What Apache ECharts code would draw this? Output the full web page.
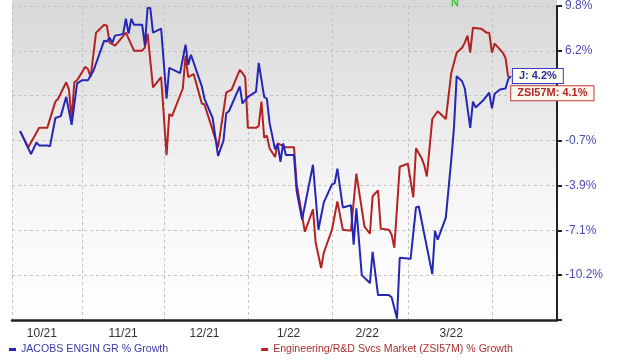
<!DOCTYPE html>
<html><head><meta charset="utf-8">
<script src="https://cdn.jsdelivr.net/npm/echarts@6/dist/echarts.min.js"></script>
<style>html,body{margin:0;padding:0;background:#fff}#c{width:620px;height:360px}</style>
</head><body><div id="c"></div>
<script>
const jName = 'JACOBS ENGIN GR % Growth';
const zName = 'Engineering/R&D Svcs Market (ZSI57M) % Growth';
const jShort = 'J';
const zShort = 'ZSI57M';
const xTickLabels = ['10/21','11/21','12/21','1/22','2/22','3/22'];
const xTickDates = ['2021-10-17','2021-11-16','2021-12-16','2022-01-16','2022-02-14','2022-03-17'];
const yTickLabels = ['9.8%','6.2%','2.6%','-0.7%','-3.9%','-7.1%','-10.2%',''];

const jDates = ['2021-10-09','2021-10-13','2021-10-15','2021-10-16','2021-10-19','2021-10-20','2021-10-22','2021-10-24','2021-10-26','2021-10-28','2021-10-30',
'2021-11-01','2021-11-03','2021-11-05','2021-11-09','2021-11-10','2021-11-11','2021-11-12','2021-11-13','2021-11-15','2021-11-16','2021-11-17','2021-11-18','2021-11-19','2021-11-20','2021-11-23','2021-11-24','2021-11-25','2021-11-26','2021-11-27','2021-11-30',
'2021-12-02','2021-12-03','2021-12-07','2021-12-09','2021-12-10','2021-12-11','2021-12-15','2021-12-16','2021-12-19','2021-12-21','2021-12-23','2021-12-24','2021-12-25','2021-12-29','2021-12-30',
'2022-01-01','2022-01-04','2022-01-05','2022-01-07','2022-01-08','2022-01-09','2022-01-11','2022-01-12','2022-01-13','2022-01-14','2022-01-15','2022-01-18','2022-01-19','2022-01-21','2022-01-25','2022-01-27','2022-01-29',
'2022-02-01','2022-02-02','2022-02-03','2022-02-05','2022-02-08','2022-02-09','2022-02-10','2022-02-12','2022-02-15','2022-02-16','2022-02-18','2022-02-22','2022-02-23','2022-02-25','2022-02-26',
'2022-03-02','2022-03-04','2022-03-05','2022-03-10','2022-03-11','2022-03-12','2022-03-15','2022-03-17','2022-03-18','2022-03-19','2022-03-21','2022-03-22','2022-03-24','2022-03-25','2022-03-26','2022-03-29','2022-03-31',
'2022-04-01','2022-04-02','2022-04-04','2022-04-06','2022-04-07','2022-04-08'];
const jValues = [0,-1.7,-0.84,-1.06,-1.06,-1.13,0.99,1.13,2.6,0.47,3.64,
3.88,3.88,4.6,7.0,6.92,7.24,6.84,7.4,7.48,7.56,8.76,7.56,8.76,8.28,8.28,6.6,9.64,9.64,7.64,7.96,
2.45,4.84,4.44,6.68,5.08,5.88,3.4,2.45,0.99,-1.84,-0.7,1.35,1.5,3.4,2.09,
2.6,3.0,5.24,2.6,2.45,0.62,-1.34,-0.98,-2.26,-0.91,-1.77,-1.77,-4.4,-6.39,-2.48,-7.1,-5.18,
-3.9,-3.83,-2.76,-5.54,-5.39,-8.13,-5.61,-10.2,-10.73,-8.62,-11.53,-11.53,-11.67,-13.07,-9.03,
-9.1,-5.54,-5.46,-10.13,-7.17,-7.79,-6.25,-2.12,0.25,4.2,3.8,3.24,0.25,2.23,1.79,2.38,2.92,
1.72,2.84,3.16,3.24,3.96,4.2];

const zDates = ['2021-10-09','2021-10-12','2021-10-15','2021-10-16','2021-10-19','2021-10-22','2021-10-23','2021-10-26','2021-10-27','2021-10-28','2021-10-29','2021-10-30',
'2021-11-02','2021-11-03','2021-11-04','2021-11-06','2021-11-09','2021-11-10','2021-11-11','2021-11-13','2021-11-14','2021-11-17','2021-11-20','2021-11-23','2021-11-24','2021-11-25','2021-11-27','2021-11-30',
'2021-12-02','2021-12-03','2021-12-04','2021-12-08','2021-12-09','2021-12-10','2021-12-12','2021-12-15','2021-12-16','2021-12-21','2021-12-23','2021-12-24','2021-12-26','2021-12-29','2021-12-30','2021-12-31',
'2022-01-01','2022-01-04','2022-01-05','2022-01-06','2022-01-07','2022-01-08','2022-01-09','2022-01-11','2022-01-12','2022-01-15','2022-01-18','2022-01-19','2022-01-22','2022-01-25','2022-01-26','2022-01-28','2022-01-29',
'2022-02-01','2022-02-03','2022-02-05','2022-02-08','2022-02-10','2022-02-13','2022-02-15','2022-02-16','2022-02-18','2022-02-19','2022-02-22','2022-02-23','2022-02-24','2022-02-26',
'2022-03-01','2022-03-03','2022-03-04','2022-03-06','2022-03-07','2022-03-08','2022-03-10','2022-03-12','2022-03-15','2022-03-17','2022-03-19','2022-03-21','2022-03-22','2022-03-23','2022-03-24','2022-03-25','2022-03-28','2022-03-30','2022-03-31',
'2022-04-01','2022-04-02','2022-04-05','2022-04-06','2022-04-07'];
const zValues = [0,-1.2,-0.11,0.25,0.25,2.23,2.45,3.72,3.16,0.91,3.72,3.88,
4.92,4.76,4.12,7.64,8.28,8.2,6.84,6.6,6.84,7.64,6.2,6.2,6.44,7.56,3.32,4.12,
-1.77,1.28,1.13,3.24,5.8,4.12,4.36,2.09,2.01,-1.2,1.5,2.92,3.16,4.68,4.44,4.12,
0.25,0.25,0.4,2.23,-0.48,-0.33,-1.27,-1.91,-0.91,-1.2,-1.2,-3.9,-7.24,-5.68,-8.0,-9.72,-8.68,
-7.1,-5.11,-7.1,-7.17,-3.12,-6.89,-7.38,-4.75,-4.33,-7.03,-7.1,-7.44,-8.34,-2.62,
-2.41,-4.82,-1.27,-1.98,-2.48,-3.33,0.91,1.5,0.91,4.44,6.04,6.44,6.84,7.4,6.04,8.04,7.96,7.64,7.64,
6.04,6.76,6.04,5.64,4.12];

// ratio (log) scale: one grid step per ~3.35% log-growth, -0.7% at 0
const L0 = Math.log(1 - 0.7 / 100), STEP = 0.03352;
const toAxis = p => (Math.log(1 + p / 100) - L0) / STEP;
const ts = s => { const [y, m, d] = s.split('-').map(Number); return new Date(y, m - 1, d).getTime(); };
const xMin = ts('2021-10-06'), xMax = ts('2022-04-25');
const jData = jDates.map((d, i) => [ts(d), toAxis(jValues[i])]);
const zData = zDates.map((d, i) => [ts(d), toAxis(zValues[i])]);
const labelTs = xTickDates.map(ts);

const FONT = '"Liberation Sans", Arial, sans-serif';
const BLUE = '#2626b6', RED = '#b42222';
const chart = echarts.init(document.getElementById('c'), null, {renderer: 'canvas'});
chart.setOption({
  animation: false,
  textStyle: {fontFamily: FONT},
  graphic: [
    {type: 'rect', z: -1, shape: {x: 12, y: 0, width: 545, height: 6}, style: {fill: '#d8d8d8'}},
    {type: 'text', left: 451, top: -3, style: {text: 'N', fill: '#33cc33', font: 'bold 11px ' + FONT}}
  ],
  grid: {left: 12, right: 63, top: 5, bottom: 40, show: true, borderWidth: 0,
    backgroundColor: new echarts.graphic.LinearGradient(0, 0, 0, 1, [
      {offset: 0, color: '#d8d8d8'}, {offset: 0.6, color: '#f6f6f6'}, {offset: 1, color: '#ffffff'}])},
  xAxis: [
    {type: 'time', min: xMin, max: xMax, minInterval: 28 * 864e5, maxInterval: 31 * 864e5,
      axisLine: {onZero: false, lineStyle: {color: '#222', width: 2.5}}, axisTick: {show: false},
      axisLabel: {show: false},
      splitLine: {show: true, lineStyle: {color: '#c2c2c2', type: [3, 3], width: 1}}},
    {type: 'value', min: xMin, max: xMax, position: 'bottom',
      axisLine: {show: false, onZero: false}, axisTick: {show: false}, splitLine: {show: false},
      axisLabel: {customValues: labelTs, color: '#333', fontSize: 12, margin: 8, fontFamily: FONT,
        formatter: v => { const i = labelTs.indexOf(v); return i >= 0 ? xTickLabels[i] : ''; }}}
  ],
  yAxis: {type: 'value', position: 'right', min: -4, max: 3, interval: 1,
    axisLine: {show: true, lineStyle: {color: '#222', width: 2}},
    axisTick: {show: true, length: 5, lineStyle: {color: '#222', width: 2}},
    axisLabel: {color: '#4a4ab4', fontSize: 12, margin: 8, fontFamily: FONT,
      formatter: v => yTickLabels[3 - Math.round(v)] || ''},
    splitLine: {show: true, lineStyle: {color: '#c2c2c2', type: [3, 3], width: 1}}},
  legend: {left: 4, top: 339, icon: 'rect', itemWidth: 7, itemHeight: 3, itemGap: 93, itemTextGap: 6,
    textStyle: {fontSize: 10.6, fontFamily: FONT},
    data: [{name: jName, textStyle: {color: '#3a3aa8'}}, {name: zName, textStyle: {color: '#a83030'}}]},
  series: [
    {name: zName, type: 'line', data: zData, showSymbol: false, z: 3,
      lineStyle: {color: RED, width: 2}, itemStyle: {color: RED},
      endLabel: {show: true, distance: 3, offset: [0, 16],
        formatter: () => zShort + ': ' + zValues[zValues.length - 1].toFixed(1) + '%',
        color: '#b02828', fontWeight: 'bold', fontSize: 11, fontFamily: FONT,
        backgroundColor: '#fff8ee', borderColor: '#c03a3a', borderWidth: 1, padding: [2, 6, 1, 6]}},
    {name: jName, type: 'line', data: jData, showSymbol: false, z: 4,
      lineStyle: {color: BLUE, width: 2}, itemStyle: {color: BLUE},
      endLabel: {show: true, distance: 2,
        formatter: () => jShort + ': ' + jValues[jValues.length - 1].toFixed(1) + '%',
        color: '#2a2a9a', fontWeight: 'bold', fontSize: 11, fontFamily: FONT,
        backgroundColor: '#fffff2', borderColor: '#3a3ac0', borderWidth: 1, padding: [2, 6, 1, 6]}}
  ]
});
</script></body></html>
